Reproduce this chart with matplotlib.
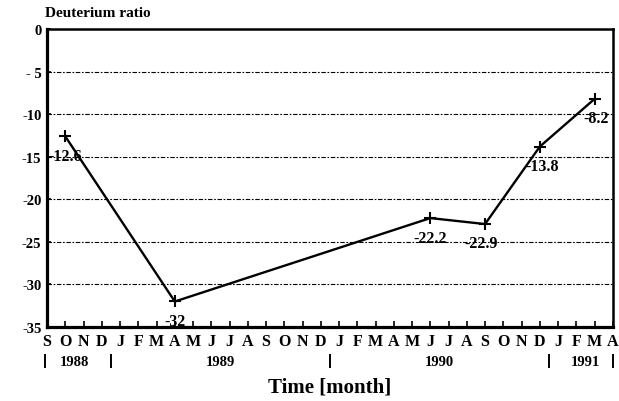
import matplotlib
matplotlib.use("Agg")
import matplotlib.pyplot as plt
import matplotlib.transforms as mtransforms

month_labels = ["S", "O", "N", "D",
                "J", "F", "M", "A", "M", "J", "J", "A", "S", "O", "N", "D",
                "J", "F", "M", "A", "M", "J", "J", "A", "S", "O", "N", "D",
                "J", "F", "M", "A"]
year_labels = ["1988", "1989", "1990", "1991"]
year_first_month = [0, 4, 16, 28]
year_last_month = [3, 15, 27, 31]

point_month = [1, 7, 21, 24, 27, 30]
values = [-12.6, -32, -22.2, -22.9, -13.8, -8.2]
value_labels = ["-12.6", "-32", "-22.2", "-22.9", "-13.8", "-8.2"]
label_dx = [0, 0, 0, -3, 2, 1]

y_ticks = [0, -5, -10, -15, -20, -25, -30, -35]
y_ticklabels = ["0", "- 5", "-10", "-15", "-20", "-25", "-30", "-35"]

plt.rcParams["font.family"] = ["Liberation Serif", "DejaVu Serif"]
plt.rcParams["font.weight"] = "bold"

fig = plt.figure(figsize=(6.19, 4.02), dpi=100)
ax = fig.add_axes([0.076, 0.184, 0.914, 0.741])

ax.plot(point_month, values, color="black", lw=1.7, marker="+", ms=9, mew=1.5, zorder=3)
for x, v, lab, dx in zip(point_month, values, value_labels, label_dx):
    ax.annotate(lab, (x, v), xytext=(dx, -14), textcoords="offset points",
                ha="center", va="center", fontsize=11.5, fontweight="bold")

ax.set_xlim(0, 31)
ax.set_ylim(-35, 0)
ax.set_yticks(y_ticks)
ax.set_yticklabels(y_ticklabels, fontsize=10.5, fontweight="bold")
ax.set_xticks(range(len(month_labels)))
ax.set_xticklabels(month_labels, fontsize=11.5, fontweight="bold")
ax.tick_params(axis="x", direction="in", length=4, width=1.2, pad=4)
ax.tick_params(axis="y", direction="in", length=3, width=1.2, pad=4)

for yv in y_ticks[1:-1]:
    ax.axhline(yv, color="black", lw=0.8, ls=(0, (4, 1.5, 1.5, 1.5)), zorder=1)

for s in ["left", "bottom"]:
    ax.spines[s].set_linewidth(2.3)
for s in ["right", "top"]:
    ax.spines[s].set_linewidth(1.8)

trans = mtransforms.blended_transform_factory(ax.transData, ax.transAxes)
for lab, a, b in zip(year_labels, year_first_month, year_last_month):
    ax.text((a + b) / 2, -0.115, lab, transform=trans, ha="center", va="center",
            fontsize=10.5, fontweight="bold")
bar_pos = [-0.1, 3.5, 15.5, 27.5, 31]
for bp in bar_pos:
    ax.plot([bp, bp], [-0.095, -0.135], transform=trans, color="black",
            lw=1.4, clip_on=False)

ax.text(-0.004, 1.035, "Deuterium ratio", transform=ax.transAxes, ha="left",
        va="bottom", fontsize=11, fontweight="bold")
ax.set_xlabel("Time [month]", fontsize=15, fontweight="bold", labelpad=20)

fig.savefig("out.png", dpi=100)
